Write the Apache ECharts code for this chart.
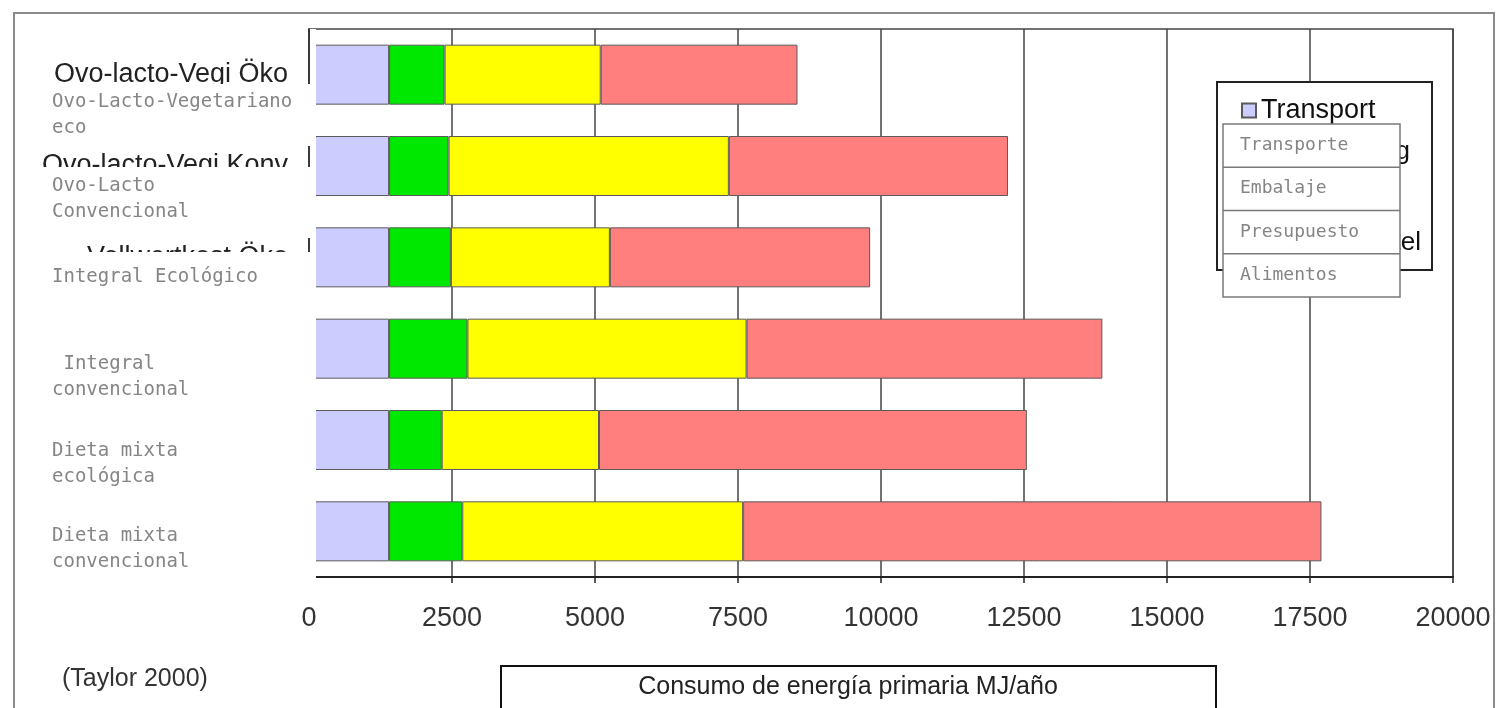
<!DOCTYPE html>
<html>
<head>
<meta charset="utf-8">
<script src="https://cdn.jsdelivr.net/npm/echarts@6/dist/echarts.min.js"></script>
<style>
html,body{margin:0;padding:0;background:#fff;}
#c{width:1496px;height:708px;}
</style>
</head>
<body>
<div id="c"></div>
<script>
// ---- data ----
var categoriesEs = ['Ovo-Lacto-Vegetariano\neco', 'Ovo-Lacto\nConvencional', 'Integral Ecológico', ' Integral\nconvencional', 'Dieta mixta\necológica', 'Dieta mixta\nconvencional'];
var categoriesDe = ['Ovo-lacto-Vegi Öko', 'Ovo-lacto-Vegi Konv', 'Vollwertkost Öko', 'Vollwertkost Konv', 'Mischkost Öko', 'Mischkost Konv'];
var transporte  = [1400, 1400, 1400, 1400, 1400, 1400];
var embalaje    = [970, 1040, 1080, 1370, 920, 1280];
var presupuesto = [2730, 4900, 2780, 4880, 2750, 4910];
var alimentos   = [3440, 4880, 4550, 6220, 7480, 10110];
var legendEs = ['Transporte', 'Embalaje', 'Presupuesto', 'Alimentos'];
var legendDe = ['Transport', 'Verpackung', 'Verarbeitung', 'Lebensmittel'];
var xMin = 0, xMax = 20000, xStep = 2500;
var axisTitle = 'Consumo de energía primaria MJ/año';
var sourceNote = '(Taylor 2000)';
// vertical offset (px) of each translated label block below its bar centre
var labelShift = [40, 33, 20, 28, 24, 18];

var colors = ['#ccccff', '#00e800', '#ffff00', '#ff7f7f'];

var chart = echarts.init(document.getElementById('c'), null, {renderer: 'canvas'});

var rich = {t: {fontFamily: 'DejaVu Sans Mono', fontSize: 19, lineHeight: 26, color: '#858585'}};
labelShift.forEach(function (s, i) { rich['g' + i] = {fontSize: 1, lineHeight: 2 * s}; });

function bar(name, data, idx) {
  return {
    name: name, type: 'bar', stack: 'total', data: data, barWidth: 60,
    yAxisIndex: 0,
    itemStyle: {color: colors[idx], borderColor: '#5a5a5a', borderWidth: 1},
    emphasis: {disabled: true}
  };
}

var graphics = [
  // outer frame
  {type: 'rect', shape: {x: 14, y: 13, width: 1480, height: 720}, style: {fill: 'none', stroke: '#8a8a8a', lineWidth: 2}, z: 1},
  // original (German) legend fragments under the overlay
  {type: 'text', x: 1410, y: 152, style: {text: legendDe[1], align: 'right', verticalAlign: 'middle', font: '26px "Liberation Sans"', fill: '#111'}, z: 55},
  {type: 'text', x: 1421, y: 243, style: {text: legendDe[3], align: 'right', verticalAlign: 'middle', font: '26px "Liberation Sans"', fill: '#111'}, z: 55},
  // white overlays covering original labels
  {type: 'rect', shape: {x: 17, y: 84, width: 293, height: 62}, style: {fill: '#fff'}, z: 50},
  {type: 'rect', shape: {x: 17, y: 167, width: 293, height: 71}, style: {fill: '#fff'}, z: 50},
  {type: 'rect', shape: {x: 17, y: 252, width: 293, height: 343}, style: {fill: '#fff'}, z: 50},
  {type: 'rect', shape: {x: 310, y: 29, width: 6, height: 561}, style: {fill: '#fff'}, z: 50},
  // translated legend overlay
  {type: 'rect', shape: {x: 1223, y: 124, width: 177, height: 173}, style: {fill: '#fff', stroke: '#7a7a7a', lineWidth: 1.5}, z: 70},
  // source note
  {type: 'text', x: 62, y: 679, style: {text: sourceNote, align: 'left', verticalAlign: 'middle', font: '25px "Liberation Sans"', fill: '#333'}, z: 60},
  // axis title box
  {type: 'rect', shape: {x: 501, y: 666, width: 715, height: 50}, style: {fill: '#fff', stroke: '#111', lineWidth: 2}, z: 60},
  {type: 'text', x: 848, y: 687, style: {text: axisTitle, align: 'center', verticalAlign: 'middle', font: '25px "Liberation Sans"', fill: '#222'}, z: 61}
];
// original legend box (behind the Transport legend)
graphics.push({type: 'rect', shape: {x: 1217, y: 82, width: 215, height: 188}, style: {fill: '#fff', stroke: '#222', lineWidth: 2}, z: 50});
legendEs.forEach(function (t, i) {
  var top = 124 + i * 43.25;
  if (i > 0) graphics.push({type: 'line', shape: {x1: 1223, y1: top, x2: 1400, y2: top}, style: {stroke: '#7a7a7a', lineWidth: 1.5}, z: 71});
  graphics.push({type: 'text', x: 1240, y: top + 21.5, style: {text: t, align: 'left', verticalAlign: 'middle', font: '18px "DejaVu Sans Mono"', fill: '#858585'}, z: 72});
});

var option = {
  animation: false,
  backgroundColor: '#fff',
  grid: {left: 309, right: 43, top: 29, bottom: 131, containLabel: false, outerBoundsMode: 'none',
         show: true, borderColor: '#444', borderWidth: 1.5, backgroundColor: 'transparent'},
  legend: {
    data: [legendDe[0]], left: 1236, top: 92, icon: 'rect', itemWidth: 14, itemHeight: 14, itemGap: 6,
    textStyle: {fontFamily: 'Liberation Sans', fontSize: 27, color: '#111'}, z: 60, selectedMode: false
  },
  xAxis: {
    type: 'value', min: xMin, max: xMax, interval: xStep,
    axisLine: {show: true, lineStyle: {color: '#222', width: 2}},
    axisTick: {show: true, length: 6, lineStyle: {color: '#222', width: 1.5}},
    axisLabel: {margin: 28, fontFamily: 'Liberation Sans', fontSize: 27, color: '#333',
                formatter: function (v) { return String(v); }},
    splitLine: {show: true, lineStyle: {color: '#444', width: 1.5}}
  },
  yAxis: [
    {type: 'category', position: 'left', offset: 0, inverse: true, data: categoriesEs,
     axisLine: {show: true, lineStyle: {color: '#333', width: 1.5}}, axisTick: {show: false}, axisLabel: {show: false}, splitLine: {show: false}, z: 3},
    {type: 'category', position: 'left', offset: 0, inverse: true, data: categoriesEs, z: 80,
     axisLine: {show: false}, axisTick: {show: false}, splitLine: {show: false},
     axisLabel: {interval: 0, align: 'left', margin: 257, rich: rich,
       formatter: function (v, i) {
         return '{g' + i + '| }\n' + v.split('\n').map(function (l) { return '{t|' + l + '}'; }).join('\n');
       }}},
    {type: 'category', position: 'left', offset: 0, inverse: true, data: categoriesDe, z: 10,
     axisLine: {show: false}, axisTick: {show: false}, splitLine: {show: false},
     axisLabel: {interval: 0, margin: 21, fontFamily: 'Liberation Sans', fontSize: 27, color: '#222'}}
  ],
  series: [
    bar(legendDe[0], transporte, 0),
    bar(legendEs[1], embalaje, 1),
    bar(legendEs[2], presupuesto, 2),
    bar(legendEs[3], alimentos, 3)
  ],
  graphic: {elements: graphics}
};
chart.setOption(option);
</script>
</body>
</html>
